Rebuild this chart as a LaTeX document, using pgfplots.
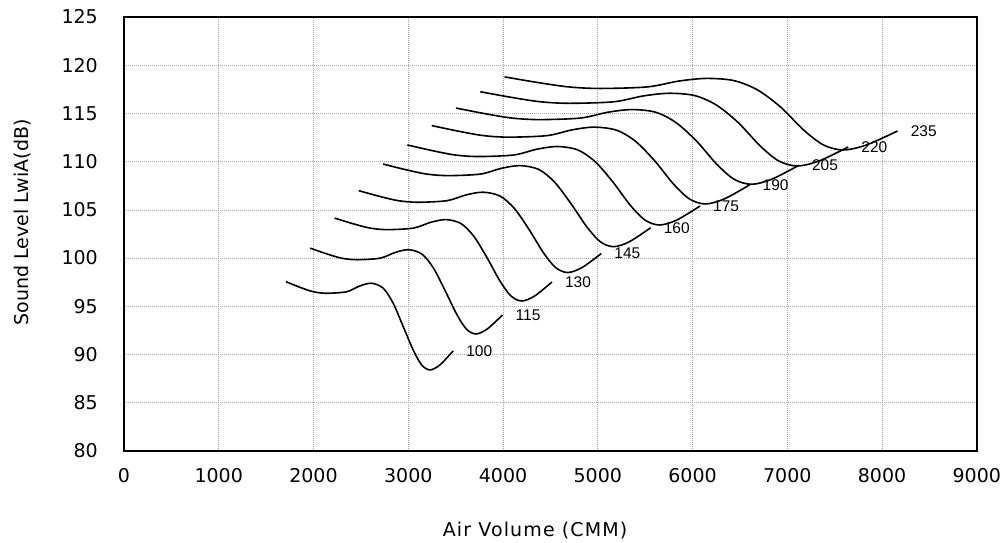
\documentclass[border=0pt]{standalone}
\usepackage{fontspec}
\setmainfont{DejaVu Sans}
\newfontfamily\lab{Liberation Sans}
\usepackage{pgfplots}
\pgfplotsset{compat=1.18}
\begin{document}
\begin{tikzpicture}
\begin{axis}[
  scale only axis, width=853bp, height=434bp,
  xmin=0,xmax=9000,ymin=80,ymax=125,
  xtick={0,1000,...,9000}, ytick={80,85,...,125},
  /pgf/number format/assume math mode=true,
  /pgf/number format/1000 sep={},
  major tick length=0pt,
  grid=major,
  major grid style={gray!70, line width=0.7bp, dash pattern=on 1bp off 1bp},
  axis line style={line width=1.6bp},
  tick label style={font=\fontsize{19bp}{22bp}\selectfont, inner sep=0pt},
  xticklabel style={yshift=-17bp},
  yticklabel style={xshift=-26bp},
  xlabel={Air Volume (CMM)}, ylabel={Sound Level LwiA(dB)},
  label style={font=\fontsize{19bp}{22bp}\selectfont},
  xlabel style={at={(axis description cs:0.482,-0.198)}, anchor=base, font=\fontsize{19bp}{22bp}\selectfont\addfontfeature{LetterSpace=6}},
  ylabel style={at={(axis description cs:-0.119,0.5265)}, anchor=center},
  clip=false,
  crv/.style={black, solid, mark=none, line width=1.6bp, smooth, tension=0.5}
]
\addplot[crv] coordinates {(1709,97.55)(1857,96.97)(1997,96.51)(2138,96.35)(2350,96.51)(2490,97.11)(2613,97.39)(2736,96.87)(2841,95.31)(2947,92.89)(3052,90.47)(3141,88.92)(3229,88.40)(3334,88.92)(3474,90.37)};
\addplot[crv] coordinates {(1965.4,101.03)(2135.6,100.45)(2296.6,99.99)(2458.7,99.83)(2702.5,99.99)(2863.5,100.59)(3005.0,100.87)(3146.4,100.40)(3267.2,98.94)(3389.1,96.62)(3509.8,94.20)(3612.2,92.65)(3713.4,92.13)(3834.1,92.65)(3995.1,94.10)};
\addplot[crv] coordinates {(2221.7,104.15)(2414.1,103.57)(2596.1,103.11)(2779.4,102.95)(3055,103.11)(3237,103.71)(3396.9,103.99)(3556.8,103.58)(3693.3,102.24)(3831.1,100.04)(3967.6,97.62)(4083.3,96.07)(4197.7,95.55)(4334.2,96.07)(4516.2,97.52)};
\addplot[crv] coordinates {(2478.1,106.99)(2692.7,106.41)(2895.7,105.95)(3100.1,105.79)(3407.5,105.95)(3610.5,106.55)(3788.9,106.83)(3967.2,106.44)(4119.5,105.15)(4273.2,102.99)(4425.4,100.57)(4554.5,99.02)(4682.1,98.50)(4834.3,99.02)(5037.3,100.47)};
\addplot[crv] coordinates {(2734.4,109.75)(2971.2,109.17)(3195.2,108.71)(3420.8,108.55)(3760,108.71)(3984,109.31)(4180.8,109.59)(4377.6,109.19)(4545.6,107.86)(4715.2,105.67)(4883.2,103.25)(5025.6,101.70)(5166.4,101.18)(5334.4,101.70)(5558.4,103.15)};
\addplot[crv] coordinates {(2990.8,111.73)(3249.8,111.15)(3494.8,110.69)(3741.5,110.53)(4112.5,110.69)(4357.5,111.29)(4572.8,111.57)(4788,111.22)(4971.8,110.00)(5157.3,107.92)(5341,105.50)(5496.8,103.95)(5650.8,103.43)(5834.5,103.95)(6079.5,105.40)};
\addplot[crv] coordinates {(3247.1,113.74)(3528.3,113.16)(3794.3,112.70)(4062.2,112.54)(4465,112.70)(4731,113.30)(4964.7,113.58)(5198.4,113.26)(5397.9,112.11)(5599.3,110.10)(5798.8,107.68)(5967.9,106.13)(6135.1,105.61)(6334.6,106.13)(6600.6,107.58)};
\addplot[crv] coordinates {(3503.5,115.56)(3806.9,114.98)(4093.9,114.52)(4382.9,114.36)(4817.5,114.52)(5104.5,115.12)(5356.7,115.40)(5608.8,115.13)(5824.1,114.06)(6041.4,112.14)(6256.6,109.72)(6439.1,108.17)(6619.5,107.65)(6834.7,108.17)(7121.7,109.62)};
\addplot[crv] coordinates {(3759.8,117.25)(4085.4,116.67)(4393.4,116.21)(4703.6,116.05)(5170,116.21)(5478,116.81)(5748.6,117.09)(6019.2,116.86)(6250.2,115.88)(6483.4,114.04)(6714.4,111.62)(6910.2,110.07)(7103.8,109.55)(7334.8,110.07)(7642.8,111.52)};
\addplot[crv] coordinates {(4016.2,118.79)(4364,118.21)(4693,117.75)(5024.3,117.59)(5522.5,117.75)(5851.5,118.35)(6140.6,118.63)(6429.6,118.42)(6676.4,117.49)(6925.5,115.70)(7172.2,113.28)(7381.4,111.73)(7588.2,111.21)(7834.9,111.73)(8163.9,113.18)};
\begin{scope}[every node/.style={anchor=west, inner sep=0pt, font=\lab\fontsize{15.5bp}{18bp}\selectfont}]
\node at (axis cs:3611,90.37) {100};
\node at (axis cs:4132,94.10) {115};
\node at (axis cs:4653,97.52) {130};
\node at (axis cs:5174,100.47) {145};
\node at (axis cs:5695,103.15) {160};
\node at (axis cs:6216,105.40) {175};
\node at (axis cs:6738,107.58) {190};
\node at (axis cs:7259,109.62) {205};
\node at (axis cs:7780,111.52) {220};
\node at (axis cs:8301,113.18) {235};
\end{scope}
\end{axis}
\path[use as bounding box] (-124bp,-91bp) rectangle (877bp,451bp);
\end{tikzpicture}
\end{document}
